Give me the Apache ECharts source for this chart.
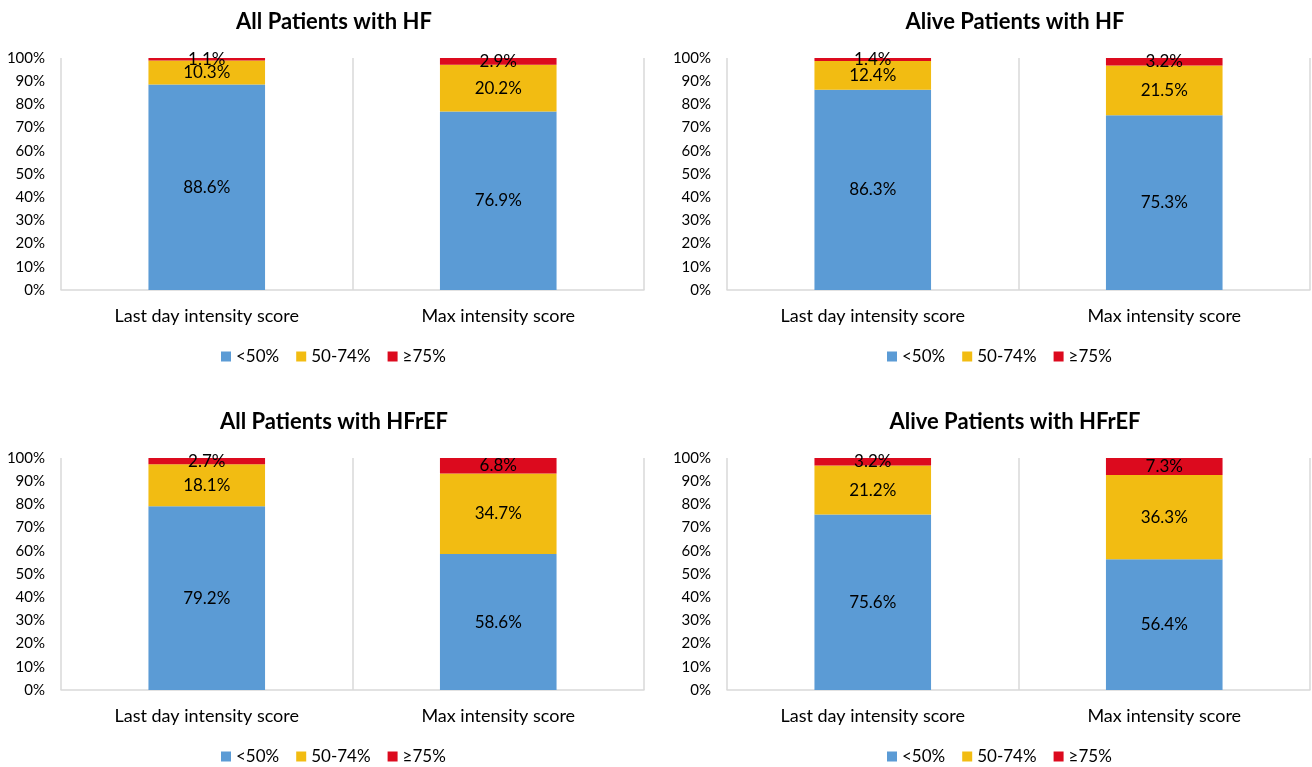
<!DOCTYPE html>
<html>
<head>
<meta charset="utf-8">
<script src="https://cdn.jsdelivr.net/npm/echarts@6/dist/echarts.min.js"></script>
<style>
html,body{margin:0;padding:0;background:#fff;}
#c{width:1312px;height:767px;}
</style>
</head>
<body>
<div id="c"></div>
<script>
const categories = ['Last day intensity score', 'Max intensity score'];
const seriesNames = ['<50%', '50-74%', '≥75%'];
const panelTitles = ['All Patients with HF', 'Alive Patients with HF', 'All Patients with HFrEF', 'Alive Patients with HFrEF'];

// values per panel: [<50%], [50-74%], [≥75%] for [Last day, Max]
const allHF_low = [88.6, 76.9];
const allHF_mid = [10.3, 20.2];
const allHF_high = [1.1, 2.9];

const aliveHF_low = [86.3, 75.3];
const aliveHF_mid = [12.4, 21.5];
const aliveHF_high = [1.4, 3.2];

const allHFrEF_low = [79.2, 58.6];
const allHFrEF_mid = [18.1, 34.7];
const allHFrEF_high = [2.7, 6.8];

const aliveHFrEF_low = [75.6, 56.4];
const aliveHFrEF_mid = [21.2, 36.3];
const aliveHFrEF_high = [3.2, 7.3];

const panels = [
  [allHF_low, allHF_mid, allHF_high],
  [aliveHF_low, aliveHF_mid, aliveHF_high],
  [allHFrEF_low, allHFrEF_mid, allHFrEF_high],
  [aliveHFrEF_low, aliveHFrEF_mid, aliveHFrEF_high]
];

const colors = ['#5B9BD5', '#F2BC12', '#DC0A1E'];
const FONT = 'Lato, "Open Sans", sans-serif';

const grids = [
  {left: 61, width: 583, top: 58, height: 232, legendLeft: 221, titleX: 329},
  {left: 727, width: 583, top: 58, height: 232, legendLeft: 887, titleX: 1010},
  {left: 61, width: 583, top: 458, height: 232, legendLeft: 221, titleX: 329},
  {left: 727, width: 583, top: 458, height: 232, legendLeft: 887, titleX: 1010}
];

const option = {
  animation: false,
  color: colors,
  textStyle: {fontFamily: FONT},
  title: [], grid: [], xAxis: [], yAxis: [], series: [], legend: []
};

grids.forEach((g, i) => {
  option.title.push({
    text: panelTitles[i],
    left: g.titleX, top: g.top - 52, textAlign: 'center',
    textStyle: {fontFamily: FONT, fontSize: 22, fontWeight: 'bold', color: '#000'}
  });
  option.grid.push({left: g.left, width: g.width, top: g.top, height: g.height, containLabel: false});
  option.xAxis.push({
    type: 'category', gridIndex: i, data: categories,
    axisLine: {show: true, lineStyle: {color: '#D9D9D9', width: 1.5}},
    axisTick: {show: false},
    splitLine: {show: true, lineStyle: {color: '#D9D9D9', width: 1.5}},
    axisLabel: {color: '#000', fontSize: 18, margin: 17, fontFamily: FONT}
  });
  option.yAxis.push({
    type: 'value', gridIndex: i, min: 0, max: 100, interval: 10,
    axisLine: {show: false},
    axisTick: {show: false},
    splitLine: {show: false},
    axisLabel: {color: '#000', fontSize: 15, margin: 16, fontFamily: FONT, formatter: '{value}%'}
  });
  panels[i].forEach((vals, s) => {
    option.series.push({
      name: seriesNames[s], type: 'bar', stack: 'p' + i,
      xAxisIndex: i, yAxisIndex: i,
      barWidth: '40%',
      data: vals,
      itemStyle: {color: colors[s]},
      label: {
        show: true, position: 'inside', color: '#000', fontSize: 17, fontFamily: FONT,
        formatter: p => p.value.toFixed(1) + '%'
      }
    });
  });
  option.legend.push({
    data: seriesNames,
    left: g.legendLeft - 5, top: g.top + g.height + 53,
    icon: 'rect', itemWidth: 10, itemHeight: 10, itemGap: 17,
    textStyle: {color: '#000', fontSize: 17, fontFamily: FONT},
    selectedMode: false
  });
});

const chart = echarts.init(document.getElementById('c'), null, {renderer: 'canvas'});
chart.setOption(option);
</script>
</body>
</html>
